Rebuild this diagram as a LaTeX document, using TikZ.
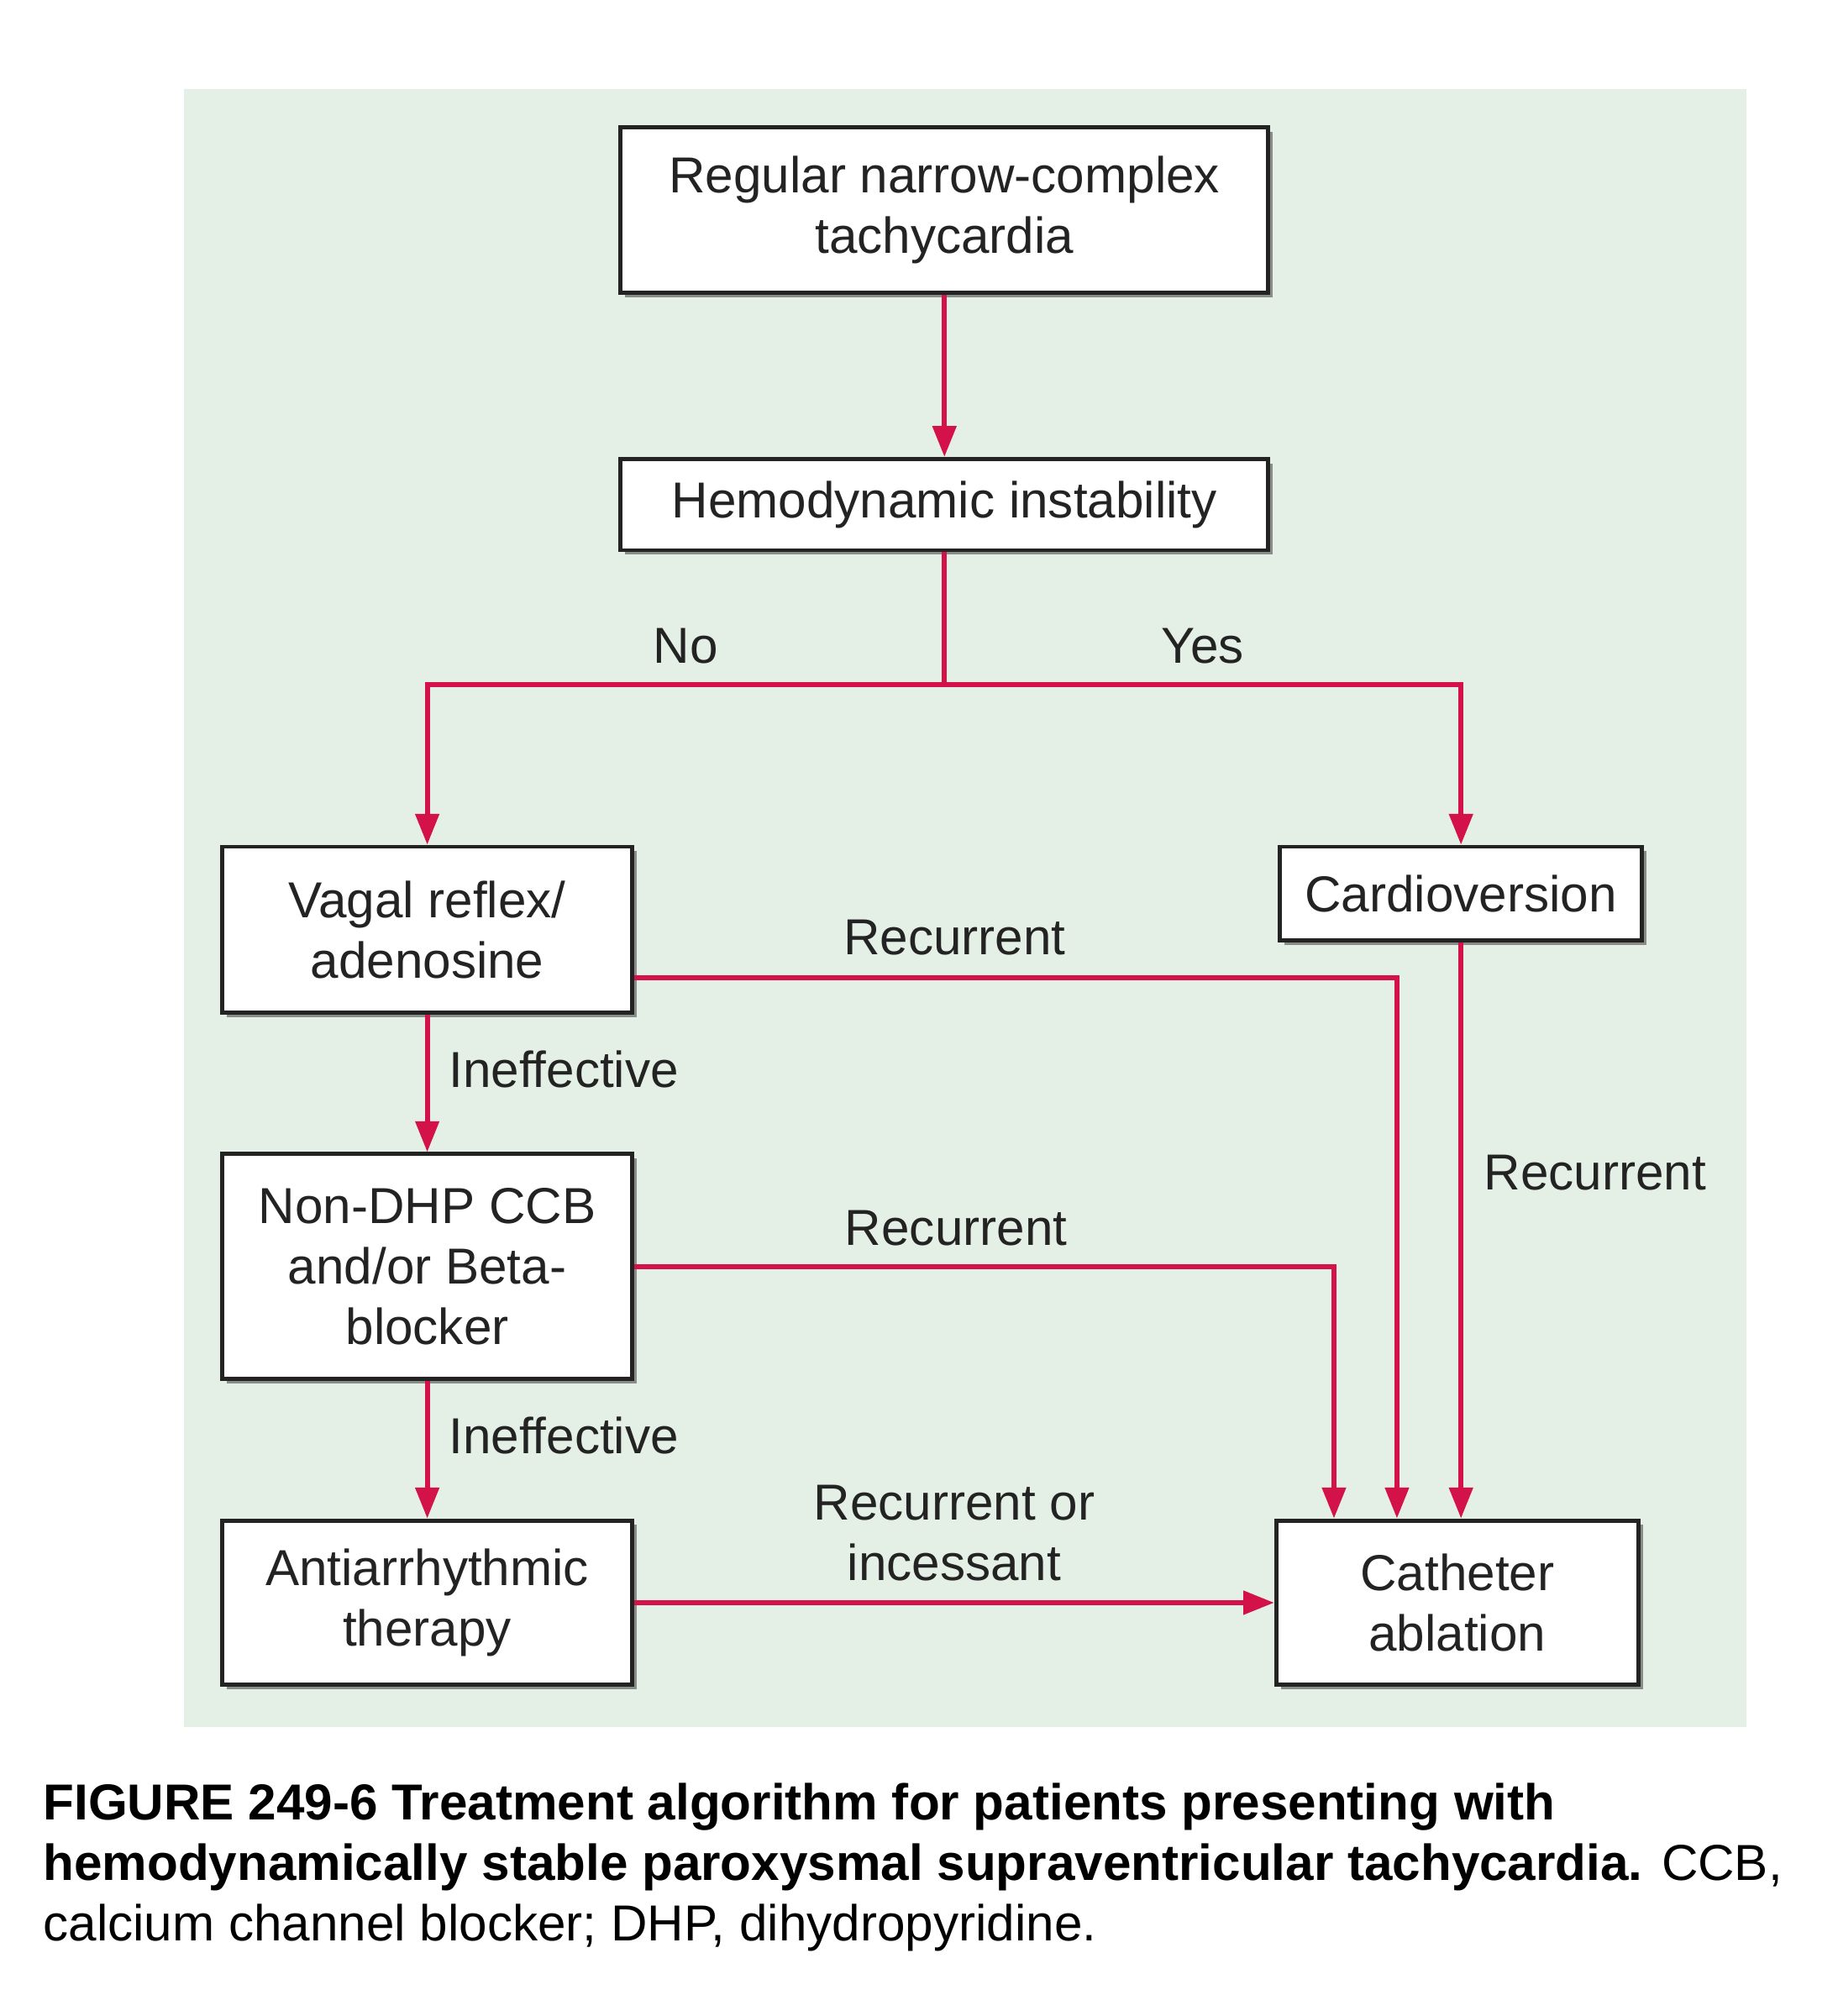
\documentclass[tikz,border=0pt]{standalone}
\usepackage{fontspec}
\setmainfont{Liberation Sans}
\usetikzlibrary{positioning,shadows,arrows.meta}
\definecolor{bggreen}{RGB}{228,240,229}
\definecolor{flowred}{RGB}{210,18,72}
\definecolor{inkgray}{RGB}{35,35,35}
\begin{document}
\begin{tikzpicture}[font=\fontsize{11.2}{13.4}\selectfont,
  box node/.style={rectangle,draw=inkgray,line width=0.9pt,fill=white,align=center,text=inkgray,inner sep=0pt,
    drop shadow={shadow xshift=0.035cm,shadow yshift=-0.035cm,fill=black!70,opacity=0.6}},
  flow/.style={draw=flowred,line width=1.1pt,-{Triangle[length=0.24cm,width=0.18cm]}},
  lbl/.style={text=inkgray,inner sep=0pt}]
  \useasboundingbox (0,0) rectangle (14.30,-15.69);
  \fill[bggreen] (1.43,-0.69) rectangle (13.59,-13.44);

  \node[box node,minimum width=5.04cm,minimum height=1.29cm] (start) at (7.35,-1.635) {Regular narrow-complex\\tachycardia};
  \node[box node,minimum width=5.04cm,minimum height=0.71cm] (hemo) [below=1.26cm of start] {Hemodynamic instability};
  \node[box node,minimum width=3.19cm,minimum height=1.29cm] (vagal) at (3.325,-7.235) {Vagal reflex/\\adenosine};
  \node[box node,minimum width=2.82cm,minimum height=0.73cm] (cardio) at (11.37,-6.955) {Cardioversion};
  \node[box node,minimum width=3.19cm,minimum height=1.75cm] (ccb) [below=1.07cm of vagal] {Non-DHP CCB\\and/or Beta-\\blocker};
  \node[box node,minimum width=3.19cm,minimum height=1.28cm] (anti) [below=1.07cm of ccb] {Antiarrhythmic\\therapy};
  \node[box node,minimum width=2.82cm,minimum height=1.28cm] (ablation) [right=4.98cm of anti] {Catheter\\ablation};
  \coordinate[below=1.03cm of hemo] (split);

  \draw[flow] (start) -- (hemo);
  \draw[flowred,line width=1.1pt] (hemo) -- (split);
  \draw[flow] (split) -| node[lbl,pos=0.25,above=0.14cm] {No} (vagal);
  \draw[flow] (split) -| node[lbl,pos=0.25,above=0.14cm] {Yes} (cardio);
  \draw[flow] (vagal) -- node[lbl,pos=0.4,right=0.15cm] {Ineffective} (ccb);
  \draw[flow] (ccb) -- node[lbl,pos=0.4,right=0.15cm] {Ineffective} (anti);
  \draw[flow] (anti) -- node[lbl,above=0.15cm,align=center] {Recurrent or\\incessant} (ablation);
  \draw[flow] (cardio.south) -- node[lbl,pos=0.4,right=0.16cm] {Recurrent} (cardio.south |- ablation.north);
  \draw[flow] ([yshift=-0.375cm]vagal.east) -| node[lbl,pos=0.21,above=0.16cm] {Recurrent} ([xshift=-0.47cm]ablation.north);
  \draw[flow] (ccb.east) -| node[lbl,pos=0.23,above=0.14cm] {Recurrent} ([xshift=-0.96cm]ablation.north);

  \node[anchor=north west,inner sep=0pt,align=left] (caption) at (0.33,-13.87) {\textbf{FIGURE 249-6 Treatment algorithm for patients presenting with}\\\textbf{hemodynamically stable paroxysmal supraventricular tachycardia.} CCB,\\calcium channel blocker; DHP, dihydropyridine.};
\end{tikzpicture}
\end{document}
